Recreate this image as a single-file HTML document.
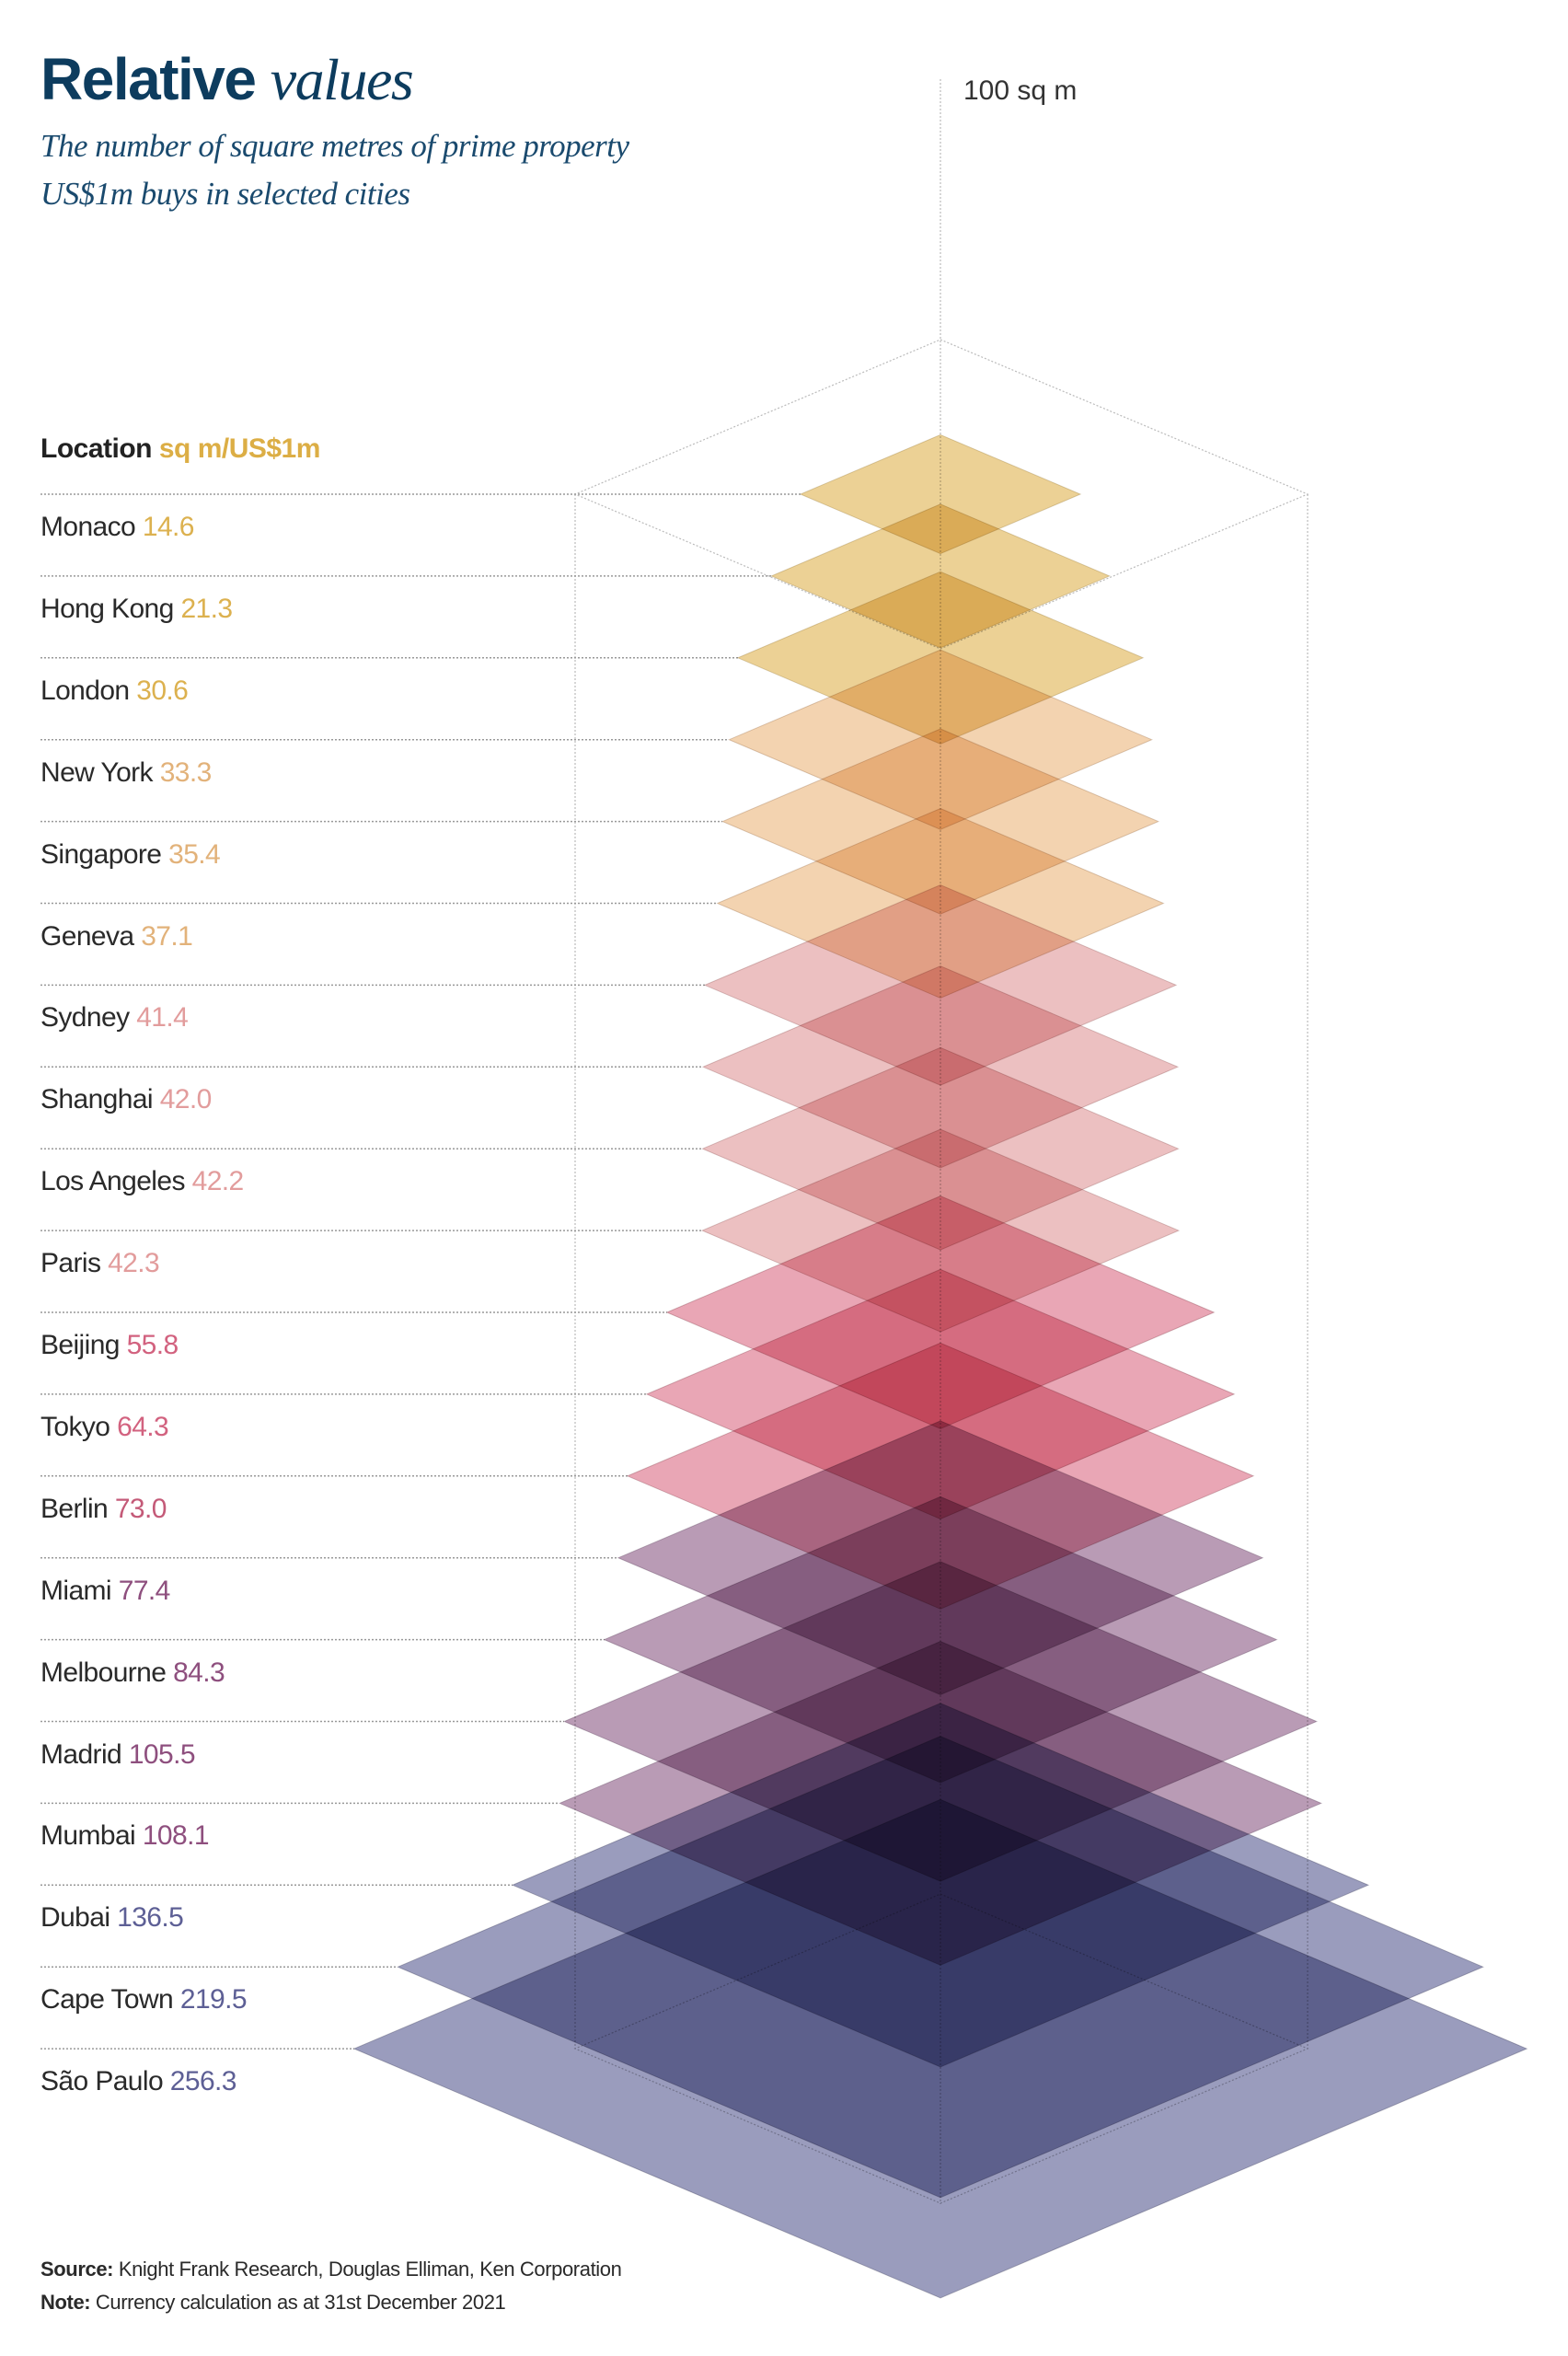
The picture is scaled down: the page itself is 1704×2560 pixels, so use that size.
<!DOCTYPE html>
<html><head><meta charset="utf-8"><style>
html,body{margin:0;padding:0;background:#fff;}
svg{display:block}
text{font-family:"Liberation Sans",sans-serif;}
polygon.d{mix-blend-mode:multiply;}
</style></head><body>
<svg width="1704" height="2560" viewBox="0 0 1704 2560" xmlns="http://www.w3.org/2000/svg">
<rect width="1704" height="2560" fill="#fff"/>
<text x="44" y="108" font-size="64" font-weight="bold" fill="#0d3c5e" letter-spacing="-1.5">Relative <tspan style="font-family:'Liberation Serif',serif;font-style:italic;font-weight:normal">values</tspan></text>
<text x="44" y="170" font-size="35" style="font-family:'Liberation Serif',serif;font-style:italic" fill="#1a4a6e" letter-spacing="-0.5">The number of square metres of prime property</text>
<text x="44" y="222" font-size="35" style="font-family:'Liberation Serif',serif;font-style:italic" fill="#1a4a6e" letter-spacing="-0.5">US$1m buys in selected cities</text>
<text x="1047" y="108" font-size="30" fill="#333">100 sq m</text>
<g stroke="#bbb" stroke-width="1.2" stroke-dasharray="2,2" fill="none">
<line x1="1022" y1="86" x2="1022" y2="2395"/>
<polygon points="1022,369 1421,537 1022,705 625,537"/>
<polygon points="1022,2058 1421,2226 1022,2394 625,2226"/>
<line x1="625" y1="537" x2="625" y2="2226"/>
<line x1="1421" y1="537" x2="1421" y2="2226"/>
</g>
<text x="44" y="497" font-size="30" font-weight="bold" fill="#222" letter-spacing="-0.5">Location <tspan fill="#dcae45">sq m/US$1m</tspan></text>
<g stroke="#999" stroke-width="1.5" stroke-dasharray="2,2">
<line x1="44" y1="537" x2="870" y2="537"/>
<line x1="44" y1="625.9" x2="838" y2="625.9"/>
<line x1="44" y1="714.8" x2="802" y2="714.8"/>
<line x1="44" y1="803.7" x2="792" y2="803.7"/>
<line x1="44" y1="892.6" x2="785" y2="892.6"/>
<line x1="44" y1="981.5" x2="780" y2="981.5"/>
<line x1="44" y1="1070.4" x2="766" y2="1070.4"/>
<line x1="44" y1="1159.3" x2="764" y2="1159.3"/>
<line x1="44" y1="1248.2" x2="763" y2="1248.2"/>
<line x1="44" y1="1337.1" x2="763" y2="1337.1"/>
<line x1="44" y1="1426" x2="725" y2="1426"/>
<line x1="44" y1="1514.9" x2="703" y2="1514.9"/>
<line x1="44" y1="1603.8" x2="682" y2="1603.8"/>
<line x1="44" y1="1692.7" x2="672" y2="1692.7"/>
<line x1="44" y1="1781.6" x2="657" y2="1781.6"/>
<line x1="44" y1="1870.5" x2="613" y2="1870.5"/>
<line x1="44" y1="1959.4" x2="608" y2="1959.4"/>
<line x1="44" y1="2048.3" x2="557" y2="2048.3"/>
<line x1="44" y1="2137.2" x2="432" y2="2137.2"/>
<line x1="44" y1="2226.1" x2="385" y2="2226.1"/>
</g>
<g stroke-width="1" stroke-opacity="0.3">
<g fill="#ecd195" stroke="#8a6a20">
<polygon class="d" points="1022,472.4 1174.1,537 1022,601.6 869.9,537"/>
<polygon class="d" points="1022,547.8 1205.7,625.9 1022,704 838.3,625.9"/>
<polygon class="d" points="1022,621.2 1242.2,714.8 1022,808.4 801.8,714.8"/>
</g>
<g fill="#f3d3b0" stroke="#8a5a30">
<polygon class="d" points="1022,706.1 1251.7,803.7 1022,901.3 792.3,803.7"/>
<polygon class="d" points="1022,792 1258.8,892.6 1022,993.2 785.2,892.6"/>
<polygon class="d" points="1022,878.5 1264.4,981.5 1022,1084.5 779.6,981.5"/>
</g>
<g fill="#ecc0c1" stroke="#804040">
<polygon class="d" points="1022,961.6 1278.1,1070.4 1022,1179.2 765.9,1070.4"/>
<polygon class="d" points="1022,1049.7 1279.9,1159.3 1022,1268.9 764.1,1159.3"/>
<polygon class="d" points="1022,1138.3 1280.5,1248.2 1022,1358.1 763.5,1248.2"/>
<polygon class="d" points="1022,1227.1 1280.9,1337.1 1022,1447.1 763.1,1337.1"/>
</g>
<g fill="#e9a6b5" stroke="#702030">
<polygon class="d" points="1022,1299.6 1319.3,1426 1022,1552.4 724.7,1426"/>
<polygon class="d" points="1022,1379.3 1341.2,1514.9 1022,1650.5 702.8,1514.9"/>
<polygon class="d" points="1022,1459.3 1362.1,1603.8 1022,1748.3 681.9,1603.8"/>
</g>
<g fill="#b99bb5" stroke="#402040">
<polygon class="d" points="1022,1543.9 1372.2,1692.7 1022,1841.5 671.8,1692.7"/>
<polygon class="d" points="1022,1626.3 1387.4,1781.6 1022,1936.9 656.6,1781.6"/>
<polygon class="d" points="1022,1696.8 1430.8,1870.5 1022,2044.2 613.2,1870.5"/>
<polygon class="d" points="1022,1783.5 1435.8,1959.4 1022,2135.3 608.2,1959.4"/>
</g>
<g fill="#9a9cbd" stroke="#202040">
<polygon class="d" points="1022,1850.7 1487,2048.3 1022,2245.9 557,2048.3"/>
<polygon class="d" points="1022,1886.6 1611.7,2137.2 1022,2387.8 432.3,2137.2"/>
<polygon class="d" points="1022,1955.3 1659.2,2226.1 1022,2496.9 384.8,2226.1"/>
</g>
</g>
<g font-size="30" fill="#2a2a2a" letter-spacing="-0.6">
<text x="44" y="582">Monaco <tspan fill="#dcb14f">14.6</tspan></text>
<text x="44" y="671">Hong Kong <tspan fill="#dcb14f">21.3</tspan></text>
<text x="44" y="760">London <tspan fill="#dcb14f">30.6</tspan></text>
<text x="44" y="849">New York <tspan fill="#e2b27a">33.3</tspan></text>
<text x="44" y="938">Singapore <tspan fill="#e2b27a">35.4</tspan></text>
<text x="44" y="1027">Geneva <tspan fill="#e2b27a">37.1</tspan></text>
<text x="44" y="1115">Sydney <tspan fill="#e29c9c">41.4</tspan></text>
<text x="44" y="1204">Shanghai <tspan fill="#e29c9c">42.0</tspan></text>
<text x="44" y="1293">Los Angeles <tspan fill="#e29c9c">42.2</tspan></text>
<text x="44" y="1382">Paris <tspan fill="#e29c9c">42.3</tspan></text>
<text x="44" y="1471">Beijing <tspan fill="#d2627f">55.8</tspan></text>
<text x="44" y="1560">Tokyo <tspan fill="#d2627f">64.3</tspan></text>
<text x="44" y="1649">Berlin <tspan fill="#c45a78">73.0</tspan></text>
<text x="44" y="1738">Miami <tspan fill="#8e4f7e">77.4</tspan></text>
<text x="44" y="1827">Melbourne <tspan fill="#8e4f7e">84.3</tspan></text>
<text x="44" y="1916">Madrid <tspan fill="#8e4f7e">105.5</tspan></text>
<text x="44" y="2004">Mumbai <tspan fill="#8e4f7e">108.1</tspan></text>
<text x="44" y="2093">Dubai <tspan fill="#5d5f95">136.5</tspan></text>
<text x="44" y="2182">Cape Town <tspan fill="#5d5f95">219.5</tspan></text>
<text x="44" y="2271">São Paulo <tspan fill="#5d5f95">256.3</tspan></text>
</g>
<text x="44" y="2473" font-size="22" fill="#2a2a2a" letter-spacing="-0.4"><tspan font-weight="bold">Source:</tspan> Knight Frank Research, Douglas Elliman, Ken Corporation</text>
<text x="44" y="2509" font-size="22" fill="#2a2a2a" letter-spacing="-0.4"><tspan font-weight="bold">Note:</tspan> Currency calculation as at 31st December 2021</text>
</svg>
</body></html>
